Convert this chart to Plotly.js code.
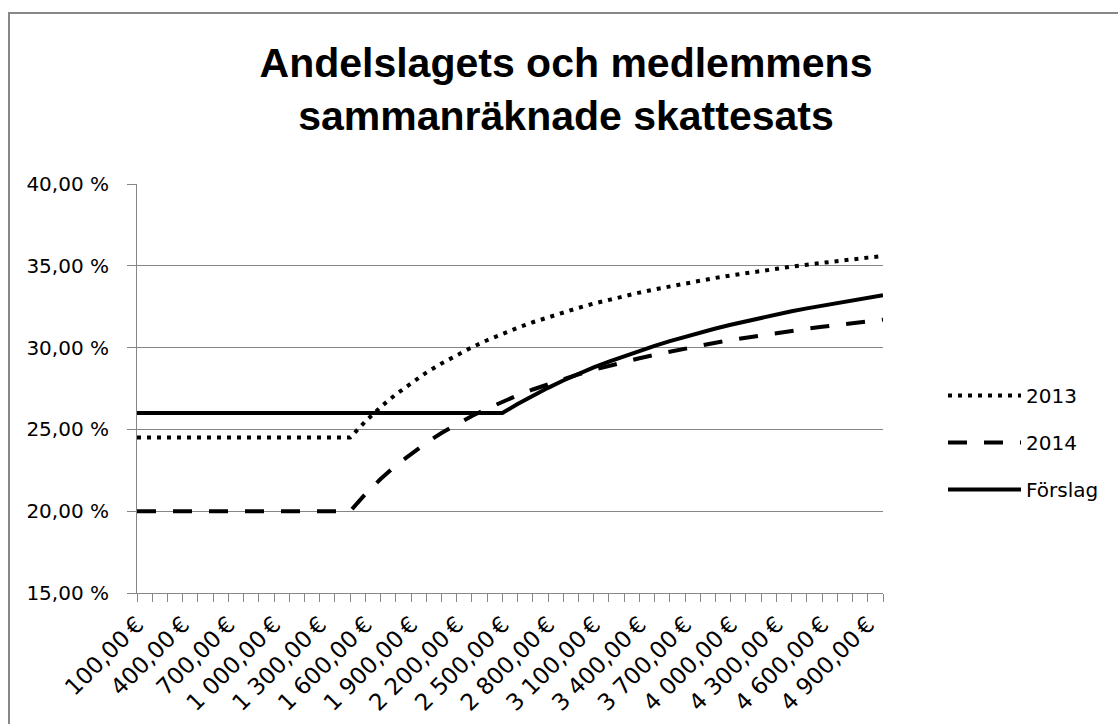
<!DOCTYPE html>
<html>
<head>
<meta charset="utf-8">
<script src="https://cdn.plot.ly/plotly-3.0.1.min.js"></script>
<style>
  html, body { margin: 0; padding: 0; background: #ffffff; }
  #wrap { position: relative; width: 1118px; height: 724px; overflow: hidden; }
  #chart { width: 1118px; height: 724px; }
  #frame { position: absolute; left: 8px; top: 12px; width: 1200px; height: 800px;
           border: 2px solid #878787; pointer-events: none; box-sizing: border-box; }
</style>
</head>
<body>
<div id="wrap">
  <div id="chart"></div>
  <div id="frame"></div>
</div>
<script>
// Income categories (€)
const incomes = [100,200,300,400,500,600,700,800,900,1000,
                 1100,1200,1300,1400,1500,1600,1700,1800,1900,2000,
                 2100,2200,2300,2400,2500,2600,2700,2800,2900,3000,
                 3100,3200,3300,3400,3500,3600,3700,3800,3900,4000,
                 4100,4200,4300,4400,4500,4600,4700,4800,4900,5000];

// Combined tax rate (%)
const rate2013 = [24.5,24.5,24.5,24.5,24.5,24.5,24.5,24.5,24.5,24.5,
                  24.5,24.5,24.5,24.5,24.5,25.49,26.37,27.14,27.84,28.47,
                  29.03,29.55,30.02,30.45,30.84,31.21,31.55,31.86,32.16,32.43,
                  32.69,32.93,33.15,33.36,33.56,33.75,33.93,34.10,34.26,34.41,
                  34.56,34.70,34.83,34.95,35.07,35.19,35.30,35.40,35.50,35.60];

const rate2014 = [20,20,20,20,20,20,20,20,20,20,
                  20,20,20,20,20,21.05,21.97,22.79,23.52,24.18,
                  24.78,25.32,25.82,26.27,26.69,27.08,27.44,27.77,28.08,28.37,
                  28.64,28.89,29.13,29.35,29.56,29.76,29.95,30.13,30.30,30.46,
                  30.61,30.76,30.89,31.03,31.15,31.27,31.39,31.50,31.61,31.71];

const rateForslag = [26,26,26,26,26,26,26,26,26,26,
                     26,26,26,26,26,26,26,26,26,26,
                     26,26,26,26,26,26.55,27.07,27.54,27.99,28.40,
                     28.79,29.15,29.49,29.81,30.11,30.40,30.67,30.93,31.17,31.40,
                     31.62,31.83,32.03,32.22,32.40,32.57,32.74,32.90,33.05,33.20];

const seriesNames = ['2013', '2014', 'Förslag'];
const yTicks = [15, 20, 25, 30, 35, 40];

function fmtEuro(v) {
  const s = String(v);
  const grp = s.length > 3 ? s.slice(0, s.length - 3) + ' ' + s.slice(-3) : s;
  return grp + ',00\u2009€';
}
function fmtPct(v) { return v.toFixed(2).replace('.', ',') + ' %'; }

const xTickText = incomes.map((v, i) => (i % 3 === 0 ? fmtEuro(v) : ''));
const yTickText = yTicks.map(fmtPct);

const FONT = 'DejaVu Sans, sans-serif';
const GRID = '#868686';

const traces = [
  { x: incomes, y: rate2013, name: seriesNames[0], type: 'scatter', mode: 'lines',
    legendgroup: 'a', line: { color: '#000000', width: 4, dash: '4px,6px' } },
  { x: incomes, y: rate2014, name: seriesNames[1], type: 'scatter', mode: 'lines',
    legendgroup: 'b', line: { color: '#000000', width: 4, dash: '19px,17px' } },
  { x: incomes, y: rateForslag, name: seriesNames[2], type: 'scatter', mode: 'lines',
    legendgroup: 'c', line: { color: '#000000', width: 4 } }
];

const layout = {
  width: 1118, height: 724,
  paper_bgcolor: '#ffffff', plot_bgcolor: '#ffffff',
  margin: { l: 137, r: 235, t: 184, b: 131, pad: 0 },
  title: {
    text: 'Andelslagets och medlemmens<br>sammanräknade skattesats',
    font: { family: 'Liberation Sans, Arial, sans-serif', size: 41, color: '#000000', weight: 'bold' },
    x: 566 / 1118, xref: 'container', xanchor: 'center',
    y: 1 - 77 / 724, yref: 'container', yanchor: 'top'
  },
  showlegend: true,
  legend: {
    x: 943 / 1118, xref: 'container', xanchor: 'left',
    y: 1 - 376 / 724, yref: 'container', yanchor: 'top',
    font: { family: FONT, size: 20, color: '#000000' },
    tracegroupgap: 18, bgcolor: 'rgba(0,0,0,0)', borderwidth: 0,
    traceorder: 'grouped', itemwidth: 73
  },
  xaxis: {
    type: 'linear', range: [incomes[0], incomes[incomes.length - 1]],
    tickmode: 'array', tickvals: incomes, ticktext: xTickText,
    tickangle: -45, ticks: 'outside', ticklen: 8, tickwidth: 1, tickcolor: GRID,
    showline: true, linecolor: GRID, linewidth: 1,
    showgrid: false, zeroline: false,
    tickfont: { family: FONT, size: 23, color: '#000000' }
  },
  yaxis: {
    range: [15, 40], tickmode: 'array', tickvals: yTicks, ticktext: yTickText,
    ticks: 'outside', ticklen: 9, tickwidth: 1, tickcolor: GRID,
    showline: true, linecolor: GRID, linewidth: 1,
    showgrid: true, gridcolor: GRID, gridwidth: 1, zeroline: false,
    ticklabelstandoff: 14,
    tickfont: { family: FONT, size: 20, color: '#000000' }
  }
};

Plotly.newPlot('chart', traces, layout, { staticPlot: true, displayModeBar: false });
</script>
</body>
</html>
